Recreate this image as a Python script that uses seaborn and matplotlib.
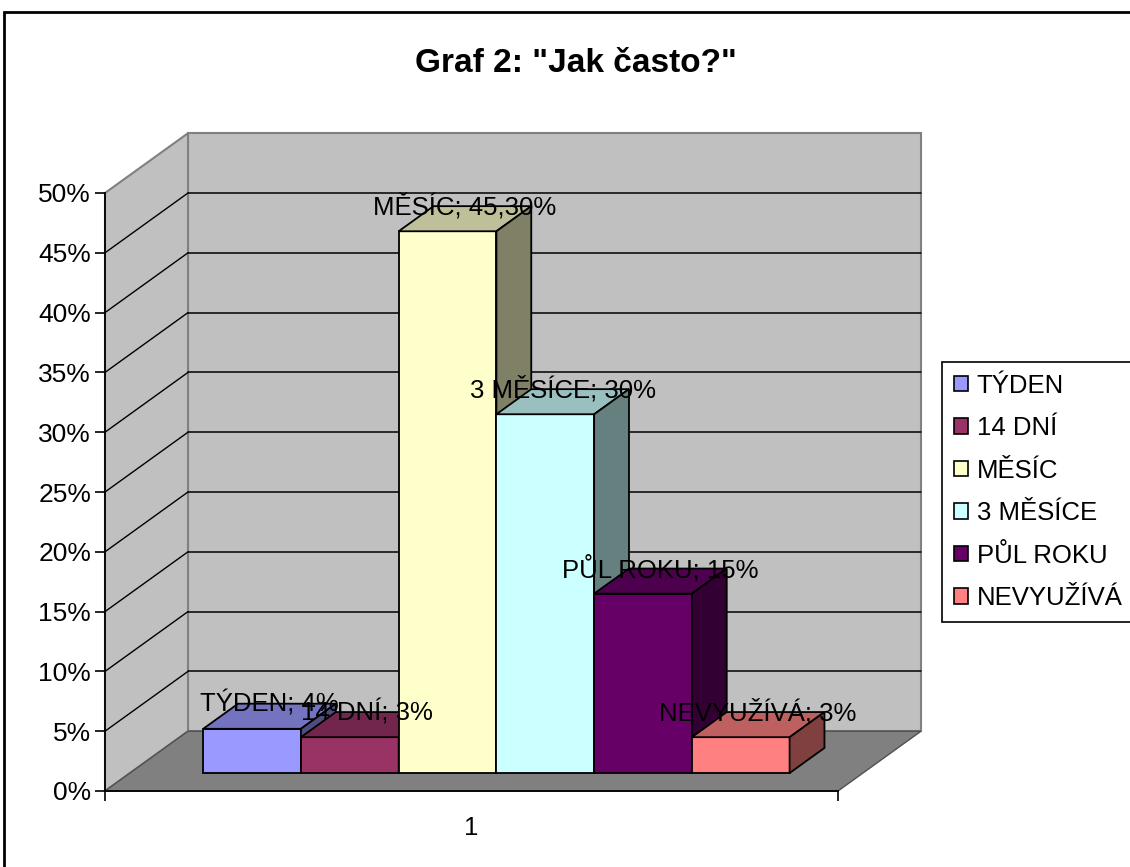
import matplotlib
matplotlib.use("Agg")
import matplotlib.pyplot as plt
from matplotlib.patches import Polygon, Rectangle, Patch
from matplotlib.colors import to_rgb
from matplotlib.ticker import FuncFormatter
import pandas as pd
import seaborn as sns

# data
kategorie = ["TÝDEN", "14 DNÍ", "MĚSÍC", "3 MĚSÍCE", "PŮL ROKU", "NEVYUŽÍVÁ"]
podil = [3.7, 3.0, 45.3, 30.0, 15.0, 3.0]
popisky = ["4%", "3%", "45,30%", "30%", "15%", "3%"]
skupina = ["1"] * len(kategorie)
barvy = ["#9999FF", "#993366", "#FFFFCC", "#CCFFFF", "#660066", "#FF8080"]


def ztmavit(c, f):
    r, g, b = to_rgb(c)
    return (r * f, g * f, b * f)


sns.set_theme(style="white")
plt.rcParams["font.family"] = ["Liberation Sans", "DejaVu Sans"]
plt.rcParams["text.color"] = "black"
plt.rcParams["xtick.color"] = "black"
plt.rcParams["ytick.color"] = "black"

W, H = 1130, 867
fig = plt.figure(figsize=(W / 100, H / 100), dpi=100)
ax = fig.add_axes([105 / W, 76 / H, 733 / W, 598 / H])
ax.set_facecolor("none")

df = pd.DataFrame({"skupina": skupina, "kategorie": kategorie, "podil": podil})
sns.barplot(data=df, x="skupina", y="podil", hue="kategorie", palette=barvy,
            width=0.8, saturation=1, edgecolor="black", linewidth=1.3,
            legend=False, ax=ax)

ax.set_xlim(-0.5, 0.5)
ax.set_ylim(0, 50)
ax.set_yticks(range(0, 51, 5))
x0, x1 = ax.get_xlim()
ytop = ax.get_ylim()[1]

# hloubka 3D efektu (v datových jednotkách)
DX = 83 / 733
DY = 5.0
OFF = 0.3   # posun sloupců do hloubky
HL = 0.42   # hloubka sloupce

# stěny a podlaha
ax.add_patch(Polygon([(x0 + DX, DY), (x1 + DX, DY), (x1 + DX, ytop + DY), (x0 + DX, ytop + DY)],
                     closed=True, fc="#C0C0C0", ec="#808080", lw=1.5, zorder=0.1, clip_on=False))
ax.add_patch(Polygon([(x0, 0), (x0 + DX, DY), (x0 + DX, ytop + DY), (x0, ytop)],
                     closed=True, fc="#C0C0C0", ec="#808080", lw=1.5, zorder=0.1, clip_on=False))
ax.add_patch(Polygon([(x0, 0), (x1, 0), (x1 + DX, DY), (x0 + DX, DY)],
                     closed=True, fc="#808080", ec="#505050", lw=1.0, zorder=0.2, clip_on=False))

for v in ax.get_yticks():
    if 0 < v < ytop:
        ax.plot([x0 + DX, x1 + DX], [v + DY, v + DY], color="black", lw=1.1, zorder=0.5, clip_on=False)
        ax.plot([x0, x0 + DX], [v, v + DY], color="black", lw=1.0, zorder=0.5, clip_on=False)

# sloupce s horní a boční stěnou
for i, (cont, kat, pop, c) in enumerate(zip(ax.containers, kategorie, popisky, barvy)):
    for p in cont:
        p.set_x(p.get_x() + OFF * DX)
        p.set_y(OFF * DY)
        z = 2 + i
        p.set_zorder(z)
        p.set_clip_on(False)
        bx0, by0 = p.get_x(), p.get_y()
        bx1, by1 = bx0 + p.get_width(), by0 + p.get_height()
        top = Polygon([(bx0, by1), (bx1, by1), (bx1 + HL * DX, by1 + HL * DY), (bx0 + HL * DX, by1 + HL * DY)],
                      closed=True, fc=ztmavit(c, 0.75), ec="black", lw=1.3, zorder=z, clip_on=False)
        side = Polygon([(bx1, by0), (bx1, by1), (bx1 + HL * DX, by1 + HL * DY), (bx1 + HL * DX, by0 + HL * DY)],
                       closed=True, fc=ztmavit(c, 0.5), ec="black", lw=1.3, zorder=z, clip_on=False)
        ax.add_patch(top)
        ax.add_patch(side)
        ax.text((bx0 + bx1) / 2 + HL * DX / 2, by1 + HL * DY, f"{kat}; {pop}",
                ha="center", va="center", fontsize=18.5, color="black", zorder=30)

# osy
for s in ["top", "right"]:
    ax.spines[s].set_visible(False)
for s in ["left", "bottom"]:
    ax.spines[s].set_color("black")
    ax.spines[s].set_linewidth(1.3)
    ax.spines[s].set_zorder(1)
ax.yaxis.set_major_formatter(FuncFormatter(lambda v, _: f"{v:.0f}%"))
ax.tick_params(axis="y", left=True, length=7, width=1.2, color="black",
               labelcolor="black", labelsize=19, pad=3)
ax.tick_params(axis="x", which="major", length=0, labelsize=18.5, labelcolor="black", pad=18)
ax.set_xticks([x0, x1], minor=True)
ax.tick_params(axis="x", which="minor", bottom=True, length=7, width=1.2, color="black")
ax.set_xlabel("")
ax.set_ylabel("")

# titulek
fig.text(0.510, 0.927, 'Graf 2: "Jak často?"', ha="center", va="center",
         fontsize=24, fontweight="bold", color="black")

# legenda
handles = [Patch(facecolor=c, edgecolor="black", linewidth=1.2) for c in barvy]
leg = ax.legend(handles, kategorie, loc="upper left",
                bbox_to_anchor=(942 / W, (H - 362) / H), bbox_transform=fig.transFigure,
                frameon=True, fancybox=False, framealpha=1, edgecolor="black",
                borderaxespad=0, fontsize=18.5, handlelength=0.55, handleheight=0.55,
                handletextpad=0.35, labelspacing=0.72, borderpad=0.45)
leg.get_frame().set_linewidth(1.2)
for t in leg.get_texts():
    t.set_color("black")

# rámeček grafu
fig.add_artist(Rectangle((4 / W, -0.05), 1.2, (H - 12) / H + 0.05, transform=fig.transFigure,
                         fill=False, ec="black", lw=2))

fig.savefig("out.png", dpi=100)
